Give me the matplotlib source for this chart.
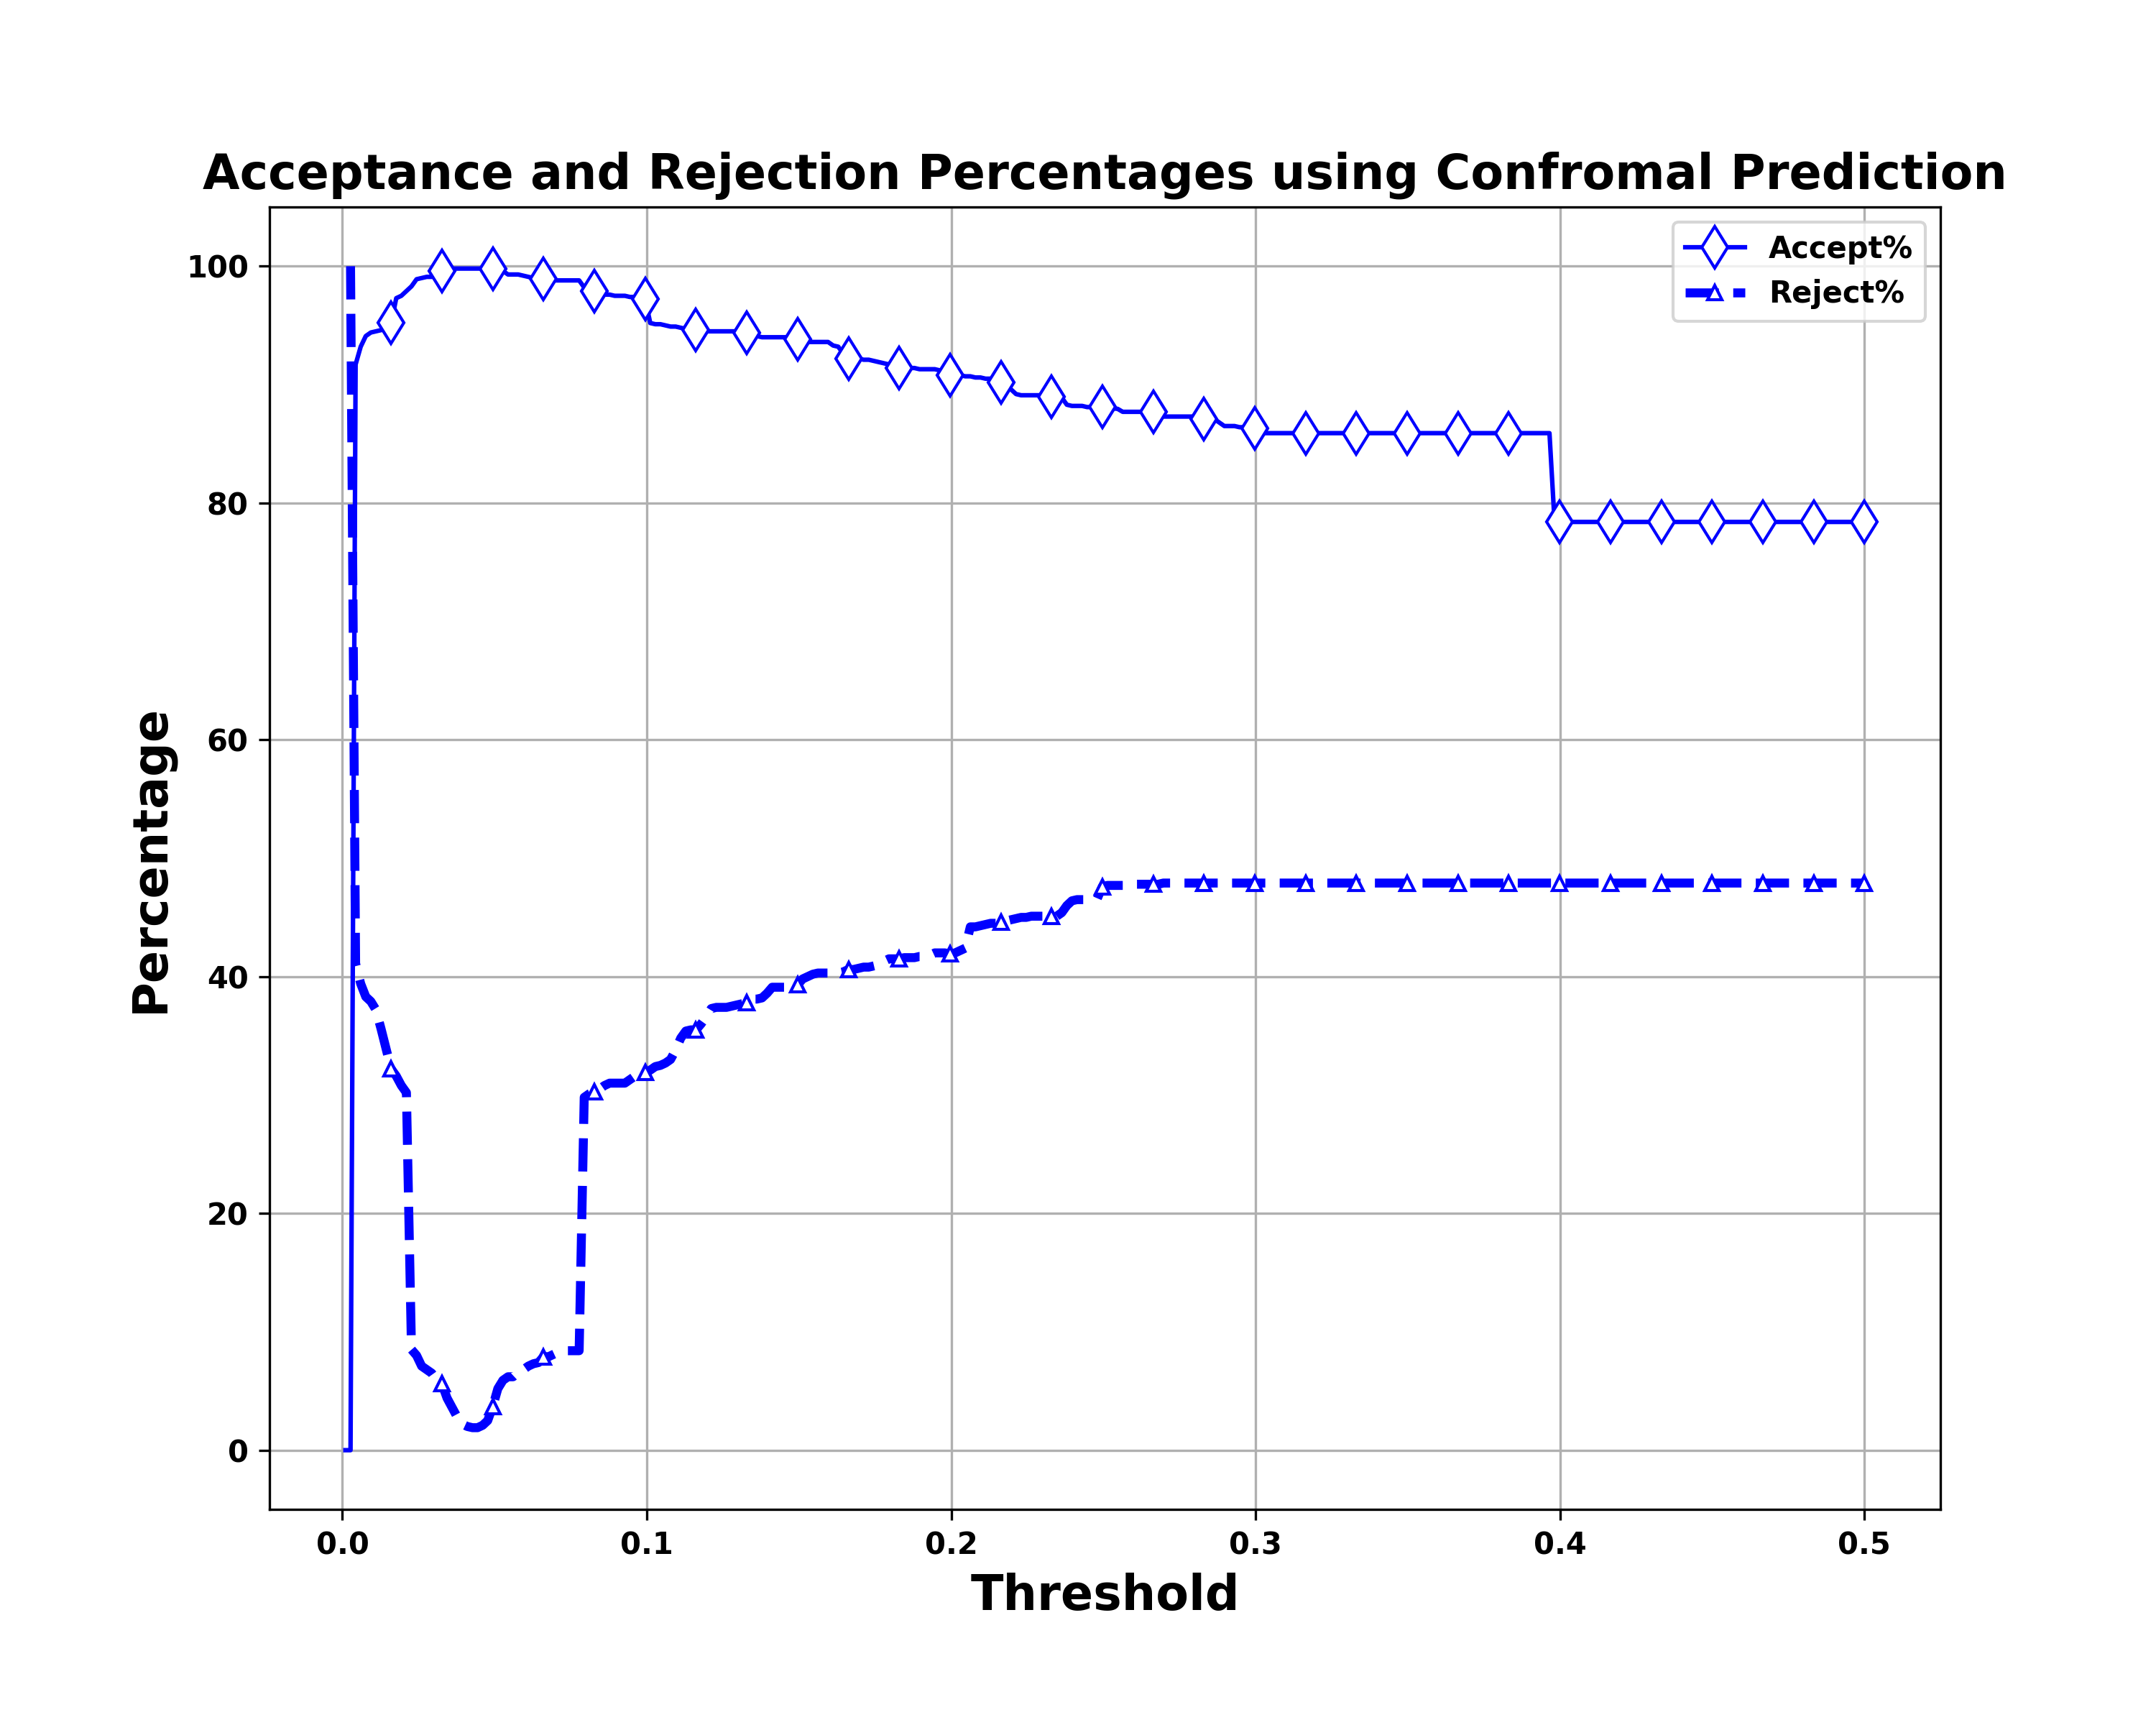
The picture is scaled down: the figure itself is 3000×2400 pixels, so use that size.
import numpy as np
import matplotlib
matplotlib.use("Agg")
import matplotlib.pyplot as plt

# Threshold grid (300 evaluation points)
thresholds = np.linspace(0.001, 0.5, 300)

accept_pct = [
    0.0, 0.0, 91.7, 93.2, 94.1, 94.4, 94.5, 94.6, 94.7, 95.2,
    97.3, 97.5, 97.9, 98.3, 98.9, 99.0, 99.1, 99.1, 99.2, 99.6,
    99.8, 99.8, 99.8, 99.8, 99.8, 99.8, 99.8, 99.8, 99.8, 99.8,
    99.8, 99.6, 99.3, 99.3, 99.3, 99.2, 99.1, 99.0, 98.9, 98.9,
    98.8, 98.8, 98.8, 98.8, 98.8, 98.8, 98.8, 98.2, 98.0, 97.9,
    97.7, 97.6, 97.6, 97.5, 97.5, 97.5, 97.4, 97.4, 97.3, 97.2,
    95.2, 95.1, 95.1, 95.0, 94.9, 94.9, 94.8, 94.7, 94.7, 94.6,
    94.5, 94.5, 94.5, 94.5, 94.5, 94.5, 94.5, 94.5, 94.5, 94.4,
    94.3, 94.1, 94.0, 94.0, 94.0, 94.0, 94.0, 94.0, 94.0, 93.8,
    93.6, 93.6, 93.6, 93.6, 93.6, 93.6, 93.3, 93.2, 92.6, 92.2,
    92.2, 92.2, 92.1, 92.1, 92.0, 91.9, 91.8, 91.7, 91.5, 91.4,
    91.4, 91.4, 91.4, 91.3, 91.3, 91.3, 91.3, 91.2, 91.0, 90.8,
    90.8, 90.8, 90.7, 90.7, 90.6, 90.6, 90.5, 90.5, 90.4, 90.2,
    90.2, 89.6, 89.2, 89.1, 89.1, 89.1, 89.1, 89.1, 89.1, 89.0,
    89.0, 88.9, 88.3, 88.2, 88.2, 88.2, 88.1, 88.1, 88.1, 88.1,
    88.0, 88.0, 87.95, 87.7, 87.7, 87.7, 87.7, 87.7, 87.7, 87.7,
    87.5, 87.3, 87.3, 87.3, 87.3, 87.3, 87.3, 87.3, 87.3, 87.1,
    87.1, 87.1, 86.8, 86.5, 86.5, 86.5, 86.4, 86.4, 86.4, 86.3,
    85.9, 85.9, 85.9, 85.9, 85.9, 85.9, 85.9, 85.9, 85.9, 85.9,
    85.9, 85.9, 85.9, 85.9, 85.9, 85.9, 85.9, 85.9, 85.9, 85.9,
    85.9, 85.9, 85.9, 85.9, 85.9, 85.9, 85.9, 85.9, 85.9, 85.9,
    85.9, 85.9, 85.9, 85.9, 85.9, 85.9, 85.9, 85.9, 85.9, 85.9,
    85.9, 85.9, 85.9, 85.9, 85.9, 85.9, 85.9, 85.9, 85.9, 85.9,
    85.9, 85.9, 85.9, 85.9, 85.9, 85.9, 85.9, 85.9, 78.4, 78.4,
    78.4, 78.4, 78.4, 78.4, 78.4, 78.4, 78.4, 78.4, 78.4, 78.4,
    78.4, 78.4, 78.4, 78.4, 78.4, 78.4, 78.4, 78.4, 78.4, 78.4,
    78.4, 78.4, 78.4, 78.4, 78.4, 78.4, 78.4, 78.4, 78.4, 78.4,
    78.4, 78.4, 78.4, 78.4, 78.4, 78.4, 78.4, 78.4, 78.4, 78.4,
    78.4, 78.4, 78.4, 78.4, 78.4, 78.4, 78.4, 78.4, 78.4, 78.4,
    78.4, 78.4, 78.4, 78.4, 78.4, 78.4, 78.4, 78.4, 78.4, 78.4,
]

reject_pct = [
    np.nan, 100.0, 41.1, 39.4, 38.3, 37.9, 37.2, 35.6, 33.9, 32.2,
    31.6, 30.8, 30.2, 8.5, 8.0, 7.1, 6.8, 6.5, 5.9, 5.6,
    4.4, 3.6, 2.8, 2.2, 2.0, 1.9, 1.9, 2.1, 2.5, 3.7,
    5.2, 5.9, 6.2, 6.2, 6.6, 6.8, 7.1, 7.3, 7.4, 7.9,
    7.9, 8.1, 8.3, 8.4, 8.4, 8.4, 8.4, 29.8, 30.1, 30.3,
    30.5, 30.8, 31.0, 31.0, 31.0, 31.0, 31.3, 31.6, 31.8, 31.9,
    32.1, 32.4, 32.5, 32.7, 33.0, 33.8, 34.8, 35.4, 35.5, 35.5,
    36.0, 36.6, 37.3, 37.4, 37.4, 37.4, 37.5, 37.6, 37.7, 37.8,
    38.1, 38.1, 38.2, 38.6, 39.1, 39.1, 39.1, 39.1, 39.2, 39.3,
    39.8, 40.0, 40.2, 40.3, 40.3, 40.3, 40.3, 40.3, 40.4, 40.6,
    40.6, 40.7, 40.8, 40.8, 40.9, 41.0, 41.3, 41.5, 41.5, 41.5,
    41.6, 41.6, 41.6, 41.7, 41.7, 41.8, 42.0, 42.0, 42.0, 41.9,
    42.0, 42.2, 42.4, 44.2, 44.2, 44.3, 44.4, 44.5, 44.5, 44.6,
    44.7, 44.8, 44.9, 45.0, 45.0, 45.1, 45.1, 45.1, 45.1, 45.1,
    45.1, 45.4, 46.0, 46.4, 46.5, 46.5, 46.5, 46.5, 46.6, 47.6,
    47.7, 47.7, 47.7, 47.7, 47.7, 47.8, 47.8, 47.8, 47.8, 47.8,
    47.8, 47.9, 47.9, 47.9, 47.9, 47.9, 47.9, 47.9, 47.9, 47.9,
    47.9, 47.9, 47.9, 47.9, 47.9, 47.9, 47.9, 47.9, 47.9, 47.9,
    47.9, 47.9, 47.9, 47.9, 47.9, 47.9, 47.9, 47.9, 47.9, 47.9,
    47.9, 47.9, 47.9, 47.9, 47.9, 47.9, 47.9, 47.9, 47.9, 47.9,
    47.9, 47.9, 47.9, 47.9, 47.9, 47.9, 47.9, 47.9, 47.9, 47.9,
    47.9, 47.9, 47.9, 47.9, 47.9, 47.9, 47.9, 47.9, 47.9, 47.9,
    47.9, 47.9, 47.9, 47.9, 47.9, 47.9, 47.9, 47.9, 47.9, 47.9,
    47.9, 47.9, 47.9, 47.9, 47.9, 47.9, 47.9, 47.9, 47.9, 47.9,
    47.9, 47.9, 47.9, 47.9, 47.9, 47.9, 47.9, 47.9, 47.9, 47.9,
    47.9, 47.9, 47.9, 47.9, 47.9, 47.9, 47.9, 47.9, 47.9, 47.9,
    47.9, 47.9, 47.9, 47.9, 47.9, 47.9, 47.9, 47.9, 47.9, 47.9,
    47.9, 47.9, 47.9, 47.9, 47.9, 47.9, 47.9, 47.9, 47.9, 47.9,
    47.9, 47.9, 47.9, 47.9, 47.9, 47.9, 47.9, 47.9, 47.9, 47.9,
    47.9, 47.9, 47.9, 47.9, 47.9, 47.9, 47.9, 47.9, 47.9, 47.9,
]

title_text = "Acceptance and Rejection Percentages using Confromal Prediction"
x_label = "Threshold"
y_label = "Percentage"
series_labels = ["Accept%", "Reject%"]

fig, ax = plt.subplots(figsize=(10, 8), dpi=300)
fig.subplots_adjust(left=0.125, right=0.9, bottom=0.125, top=0.88)

ax.plot(thresholds, accept_pct, color="blue", linestyle="-", linewidth=1.5,
        marker="d", markersize=10, markerfacecolor="white",
        markeredgecolor="blue", markeredgewidth=1.0, markevery=(9, 10),
        label=series_labels[0])
ax.plot(thresholds, reject_pct, color="blue", linestyle="--", linewidth=3,
        marker="^", markersize=5, markerfacecolor="white",
        markeredgecolor="blue", markeredgewidth=1.0, markevery=(9, 10),
        label=series_labels[1])

ax.set_title(title_text, fontsize=16, fontweight="bold")
ax.set_xlabel(x_label, fontsize=16, fontweight="bold")
ax.set_ylabel(y_label, fontsize=16, fontweight="bold")
ax.grid(True)

for lab in ax.get_xticklabels() + ax.get_yticklabels():
    lab.set_fontweight("bold")
    lab.set_fontsize(10)

ax.legend(loc="upper right", prop={"weight": "bold", "size": 10})

fig.savefig("out.png", dpi=300)
